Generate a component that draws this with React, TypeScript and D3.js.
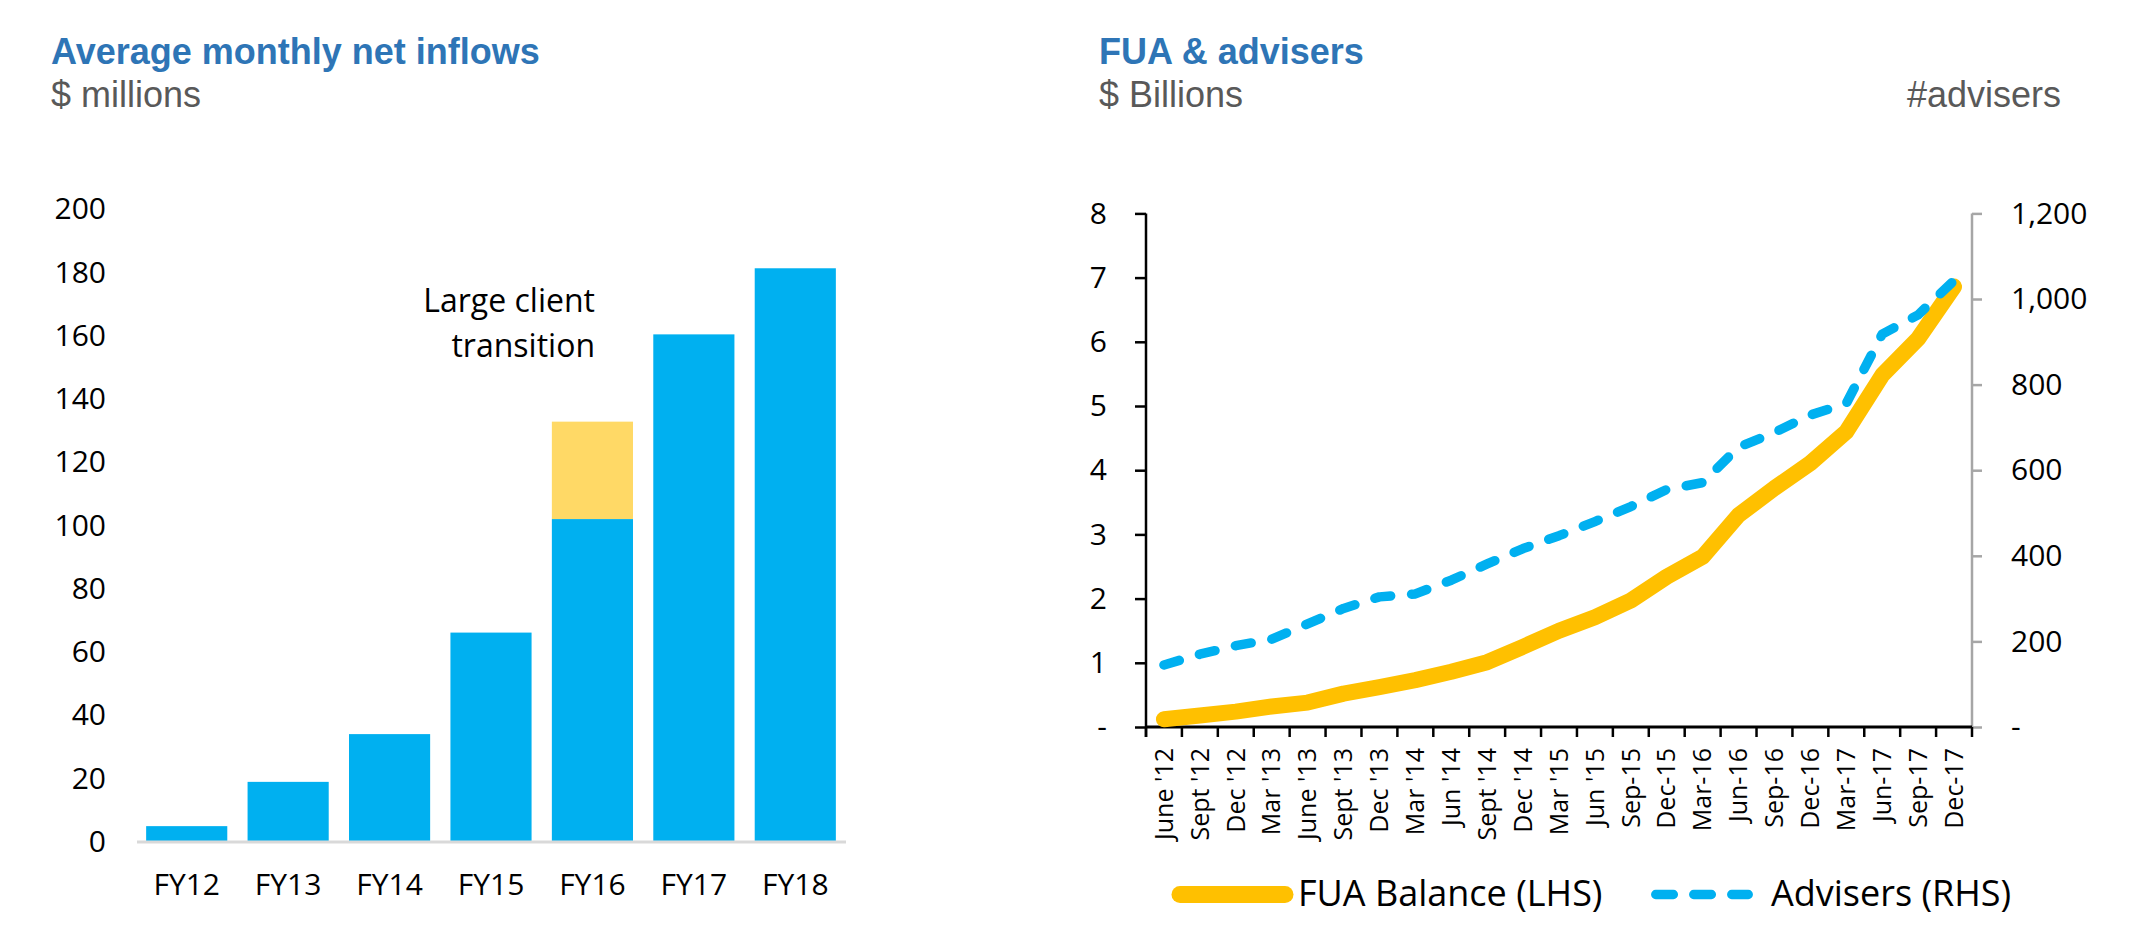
import { useEffect, useRef } from "react";
import * as d3 from "d3";

// left chart: average monthly net inflows ($m)
const fyLabels = ["FY12", "FY13", "FY14", "FY15", "FY16", "FY17", "FY18"];
const inflowBase = [4.7, 18.7, 33.8, 65.9, 101.8, 160.2, 181.1];
const inflowLargeClient = [0, 0, 0, 0, 30.8, 0, 0];
const inflowTicks = [0, 20, 40, 60, 80, 100, 120, 140, 160, 180, 200];

// right chart: FUA ($bn) and adviser count
const quarterLabels = [
  "June '12", "Sept '12", "Dec '12", "Mar '13", "June '13", "Sept '13",
  "Dec '13", "Mar '14", "Jun '14", "Sept '14", "Dec '14", "Mar '15",
  "Jun '15", "Sep-15", "Dec-15", "Mar-16", "Jun-16", "Sep-16", "Dec-16",
  "Mar-17", "Jun-17", "Sep-17", "Dec-17",
];
const fuaBalance = [
  0.12, 0.18, 0.24, 0.32, 0.38, 0.52, 0.62, 0.73, 0.86, 1.01, 1.25, 1.5,
  1.71, 1.97, 2.34, 2.65, 3.3, 3.72, 4.11, 4.6, 5.48, 6.05, 6.86,
];
const advisers = [
  145, 170, 190, 205, 241, 277, 304, 311, 343, 381, 417, 447, 480, 515, 555,
  571, 654, 688, 729, 756, 918, 963, 1043,
];
const fuaTicks = [0, 1, 2, 3, 4, 5, 6, 7, 8];
const adviserTicks = [0, 200, 400, 600, 800, 1000, 1200];

const BLUE = "#00B0F0";
const GOLD = "#FFC000";
const PALE_GOLD = "#FFD966";
const TITLE_BLUE = "#2E75B6";
const GREY_TEXT = "#595959";
const SANS = "'Liberation Sans', Arial, sans-serif";
const LABEL = "'Open Sans', 'Noto Sans', sans-serif";

export default function App() {
  const svgRef = useRef<SVGSVGElement>(null);

  useEffect(() => {
    if (!svgRef.current) return;
    const svg = d3.select(svgRef.current);
    svg.selectAll("*").remove();

    // ---------- titles ----------
    const titles = [
      { x: 51, y: 64, text: "Average monthly net inflows", bold: true, anchor: "start" },
      { x: 51, y: 107, text: "$ millions", bold: false, anchor: "start" },
      { x: 1099, y: 64, text: "FUA & advisers", bold: true, anchor: "start" },
      { x: 1099, y: 107, text: "$ Billions", bold: false, anchor: "start" },
      { x: 2061, y: 107, text: "#advisers", bold: false, anchor: "end" },
    ];
    svg
      .selectAll(".title")
      .data(titles)
      .enter()
      .append("text")
      .attr("x", (d) => d.x)
      .attr("y", (d) => d.y)
      .attr("text-anchor", (d) => d.anchor)
      .attr("font-family", SANS)
      .attr("font-size", 36)
      .attr("font-weight", (d) => (d.bold ? 700 : 400))
      .attr("fill", (d) => (d.bold ? TITLE_BLUE : GREY_TEXT))
      .text((d) => d.text);

    // ---------- left: bar chart ----------
    const x = d3.scaleBand().domain(fyLabels).range([136, 846]).paddingInner(0.2).paddingOuter(0.1);
    const y = d3.scaleLinear().domain([0, 200]).range([841, 208.5]);

    const left = svg.append("g");

    left
      .selectAll(".ytick")
      .data(inflowTicks)
      .enter()
      .append("text")
      .attr("x", 106)
      .attr("y", (d) => y(d))
      .attr("dy", "0.36em")
      .attr("text-anchor", "end")
      .attr("font-family", LABEL)
      .attr("font-size", 30)
      .attr("fill", "#000")
      .text((d) => d);

    left
      .selectAll(".bar")
      .data(fyLabels)
      .enter()
      .append("rect")
      .attr("x", (d) => x(d)!)
      .attr("width", x.bandwidth())
      .attr("y", (_, i) => y(inflowBase[i]))
      .attr("height", (_, i) => y(0) - y(inflowBase[i]))
      .attr("fill", BLUE);

    left
      .selectAll(".bar2")
      .data(fyLabels.filter((_, i) => inflowLargeClient[i] > 0))
      .enter()
      .append("rect")
      .attr("x", (d) => x(d)!)
      .attr("width", x.bandwidth())
      .attr("y", (d) => {
        const i = fyLabels.indexOf(d);
        return y(inflowBase[i] + inflowLargeClient[i]);
      })
      .attr("height", (d) => {
        const i = fyLabels.indexOf(d);
        return y(inflowBase[i]) - y(inflowBase[i] + inflowLargeClient[i]);
      })
      .attr("fill", PALE_GOLD);

    left
      .append("line")
      .attr("x1", 137)
      .attr("x2", 846)
      .attr("y1", y(0) + 1)
      .attr("y2", y(0) + 1)
      .attr("stroke", "#D9D9D9")
      .attr("stroke-width", 3);

    left
      .selectAll(".xlab")
      .data(fyLabels)
      .enter()
      .append("text")
      .attr("x", (d) => x(d)! + x.bandwidth() / 2)
      .attr("y", 895)
      .attr("text-anchor", "middle")
      .attr("font-family", LABEL)
      .attr("font-size", 30)
      .text((d) => d);

    const note = left
      .append("text")
      .attr("text-anchor", "end")
      .attr("font-family", LABEL)
      .attr("font-size", 32)
      .attr("fill", "#000");
    note.append("tspan").attr("x", 595).attr("y", 312).text("Large client");
    note.append("tspan").attr("x", 595).attr("y", 357).text("transition");

    // ---------- right: FUA & advisers ----------
    const xq = d3.scaleBand().domain(quarterLabels).range([1146, 1972]);
    const yL = d3.scaleLinear().domain([0, 8]).range([727, 213.4]);
    const yR = d3.scaleLinear().domain([0, 1200]).range([727, 213.4]);
    const cx = (d: string) => xq(d)! + xq.bandwidth() / 2;

    const right = svg.append("g");

    // right axis (grey)
    const rAxis = right
      .append("g")
      .attr("transform", "translate(1972,0)")
      .call(
        d3
          .axisRight(yR)
          .tickValues(adviserTicks)
          .tickSize(10)
          .tickPadding(29)
          .tickFormat((d) => (d === 0 ? "-" : d3.format(",")(d as number)))
      );
    rAxis.select(".domain").attr("stroke", "#A6A6A6").attr("stroke-width", 2.5).attr("d", "M0,213.4V727");
    rAxis.selectAll(".tick line").attr("stroke", "#A6A6A6").attr("stroke-width", 2.5);
    rAxis
      .selectAll(".tick text")
      .attr("font-family", LABEL)
      .attr("font-size", 30)
      .attr("fill", "#000");

    // left axis (black)
    const lAxis = right
      .append("g")
      .attr("transform", "translate(1146,0)")
      .call(
        d3
          .axisLeft(yL)
          .tickValues(fuaTicks)
          .tickSize(11)
          .tickPadding(28)
          .tickFormat((d) => (d === 0 ? "-" : String(d)))
      );
    lAxis.select(".domain").attr("stroke", "#000").attr("stroke-width", 2.5).attr("d", "M0,213.4V737");
    lAxis.selectAll(".tick line").attr("stroke", "#000").attr("stroke-width", 2.5);
    lAxis
      .selectAll(".tick text")
      .attr("font-family", LABEL)
      .attr("font-size", 30)
      .attr("fill", "#000");

    // x axis with ticks on category boundaries
    right
      .append("line")
      .attr("x1", 1146)
      .attr("x2", 1972)
      .attr("y1", 727)
      .attr("y2", 727)
      .attr("stroke", "#000")
      .attr("stroke-width", 3);
    const bounds = quarterLabels.map((d) => xq(d)!).concat([xq.range()[1]]);
    right
      .selectAll(".qtick")
      .data(bounds)
      .enter()
      .append("line")
      .attr("x1", (d) => d)
      .attr("x2", (d) => d)
      .attr("y1", 727)
      .attr("y2", 737)
      .attr("stroke", "#000")
      .attr("stroke-width", 2.5);

    right
      .selectAll(".qlab")
      .data(quarterLabels)
      .enter()
      .append("text")
      .attr("transform", (d) => `translate(${cx(d)},748) rotate(-90)`)
      .attr("dy", "0.35em")
      .attr("text-anchor", "end")
      .attr("font-family", LABEL)
      .attr("font-size", 25)
      .attr("fill", "#000")
      .text((d) => d);

    const fuaLine = d3
      .line<number>()
      .x((_, i) => cx(quarterLabels[i]))
      .y((d) => yL(d));
    right
      .append("path")
      .attr("d", fuaLine(fuaBalance))
      .attr("fill", "none")
      .attr("stroke", GOLD)
      .attr("stroke-width", 16)
      .attr("stroke-linejoin", "round")
      .attr("stroke-linecap", "round");

    const advLine = d3
      .line<number>()
      .x((_, i) => cx(quarterLabels[i]))
      .y((d) => yR(d));
    right
      .append("path")
      .attr("d", advLine(advisers))
      .attr("fill", "none")
      .attr("stroke", BLUE)
      .attr("stroke-width", 9.5)
      .attr("stroke-dasharray", "16 21")
      .attr("stroke-linejoin", "round")
      .attr("stroke-linecap", "round");

    // legend
    const legend = right.append("g");
    legend
      .append("line")
      .attr("x1", 1180)
      .attr("x2", 1285)
      .attr("y1", 894.5)
      .attr("y2", 894.5)
      .attr("stroke", GOLD)
      .attr("stroke-width", 17)
      .attr("stroke-linecap", "round");
    legend
      .append("text")
      .attr("x", 1298)
      .attr("y", 906)
      .attr("font-family", LABEL)
      .attr("font-size", 36)
      .text("FUA Balance (LHS)");
    legend
      .append("line")
      .attr("x1", 1655.7)
      .attr("x2", 1748.3)
      .attr("y1", 894.5)
      .attr("y2", 894.5)
      .attr("stroke", BLUE)
      .attr("stroke-width", 9.3)
      .attr("stroke-dasharray", "17.7 20.3")
      .attr("stroke-linecap", "round");
    legend
      .append("text")
      .attr("x", 1771)
      .attr("y", 906)
      .attr("font-family", LABEL)
      .attr("font-size", 36)
      .text("Advisers (RHS)");
  }, []);

  return (
    <svg
      ref={svgRef}
      width={2150}
      height={940}
      style={{ position: "absolute", left: 0, top: 0, background: "#fff" }}
    />
  );
}
